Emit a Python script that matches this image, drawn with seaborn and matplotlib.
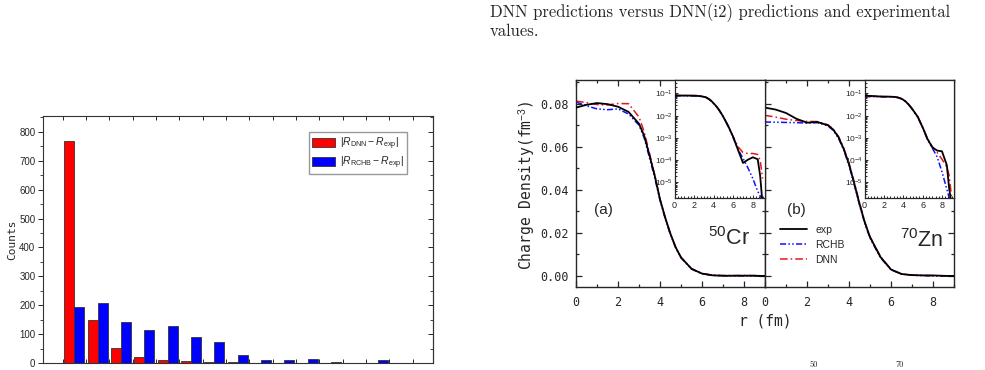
import numpy as np
import pandas as pd
import seaborn as sns
import matplotlib
matplotlib.use("Agg")
import matplotlib.pyplot as plt
from matplotlib.ticker import MultipleLocator, AutoMinorLocator, LogLocator, FormatStrFormatter, NullFormatter

# ---- histogram data (counts per bin) ----
bins = list(range(16))
dnn_counts = [768, 149, 53, 21, 9, 6, 3, 3, 1, 0, 0, 0, 0, 0, 1, 0]
rchb_counts = [194, 209, 141, 113, 127, 91, 71, 27, 12, 9, 14, 5, 0, 9, 1, 1]
hist_labels = [r"$|R_{\rm DNN}-R_{\rm exp}|$", r"$|R_{\rm RCHB}-R_{\rm exp}|$"]

# ---- charge density data (fm^-3) ----
r_fm = [0, 0.5, 1, 1.5, 2, 2.5, 3, 3.25, 3.5, 3.75, 4, 4.25, 4.5, 4.75, 5, 5.5, 6, 6.5, 7, 7.5, 8, 8.5, 8.75, 9]
cr_exp = [0.0782, 0.0795, 0.0803, 0.0798, 0.0786, 0.0762, 0.0707, 0.0650, 0.0560, 0.0465, 0.0355, 0.0270,
          0.0195, 0.0132, 0.0086, 0.0033, 1.1e-3, 2.8e-4, 7.5e-5, 1.05e-4, 1.35e-4, 1.1e-4, 2e-5, 1e-6]
cr_rchb = [0.0808, 0.0790, 0.0776, 0.0772, 0.0776, 0.0752, 0.0700, 0.0640, 0.0548, 0.0455, 0.0350, 0.0265,
           0.0190, 0.0130, 0.0084, 0.0032, 1.0e-3, 3.0e-4, 1.2e-4, 4.5e-5, 1.5e-5, 4e-6, 2.5e-6, 1.5e-6]
cr_dnn = [0.0812, 0.0805, 0.0796, 0.0794, 0.0801, 0.0800, 0.0738, 0.0668, 0.0568, 0.0467, 0.0358, 0.0268,
          0.0192, 0.0130, 0.0086, 0.0034, 1.1e-3, 4.0e-4, 2.2e-4, 2.0e-4, 2.0e-4, 1.8e-4, 1.0e-4, 1.5e-5]
zn_exp = [0.0782, 0.0773, 0.0757, 0.0730, 0.0712, 0.0715, 0.0700, 0.0680, 0.0645, 0.0590, 0.0520, 0.0430,
          0.0336, 0.0250, 0.0181, 0.0088, 0.0030, 9.0e-4, 3.8e-4, 2.7e-4, 2.5e-4, 6e-5, 5e-6, 1e-6]
zn_rchb = [0.0715, 0.0714, 0.0713, 0.0712, 0.0710, 0.0712, 0.0697, 0.0676, 0.0640, 0.0585, 0.0515, 0.0425,
           0.0330, 0.0245, 0.0176, 0.0085, 0.0029, 8.5e-4, 3.5e-4, 1.4e-4, 3e-5, 5e-6, 2e-6, 1e-6]
zn_dnn = [0.0746, 0.0738, 0.0728, 0.0722, 0.0718, 0.0717, 0.0702, 0.0682, 0.0648, 0.0594, 0.0525, 0.0436,
          0.0340, 0.0252, 0.0182, 0.0090, 0.0031, 9.5e-4, 4.0e-4, 2.2e-4, 1.1e-4, 5e-5, 2e-5, 2e-6]

sns.set_style("ticks")
plt.rcParams["font.family"] = ["Liberation Sans", "DejaVu Sans"]
plt.rcParams["mathtext.fontset"] = "custom"
plt.rcParams["mathtext.rm"] = "Liberation Sans"
plt.rcParams["mathtext.it"] = "Liberation Sans:italic"
plt.rcParams["mathtext.bf"] = "Liberation Sans:bold"
plt.rcParams["axes.unicode_minus"] = False

fig = plt.figure(figsize=(9.85, 3.7), dpi=100)

# ---------------- left: histogram ----------------
ax_h = fig.add_axes([0.04365, 0.0189, 0.3959, 0.6676])
df = pd.DataFrame({
    "bin": bins * 2,
    "count": dnn_counts + rchb_counts,
    "model": [hist_labels[0]] * len(bins) + [hist_labels[1]] * len(bins),
})
sns.barplot(data=df, x="bin", y="count", hue="model", palette=["#ff0000", "#0000ff"],
            saturation=1, width=0.86, edgecolor="#333333", linewidth=0.6, ax=ax_h)
ax_h.set_xlim(-1.34, 15.37)
ax_h.set_ylim(0, 855)
ax_h.set_xticks(np.arange(-0.5, 15, 1))
ax_h.set_xticklabels([])
ax_h.set_xlabel("")
ax_h.set_ylabel("")
ax_h.yaxis.set_major_locator(MultipleLocator(100))
ax_h.yaxis.set_minor_locator(MultipleLocator(50))
ax_h.tick_params(axis="y", which="major", direction="out", length=3.5, width=0.7, labelsize=7, pad=2)
ax_h.tick_params(axis="y", which="minor", direction="out", length=2, width=0.6)
ax_h.tick_params(axis="x", direction="in", length=3, width=0.7, top=True)
sec = ax_h.secondary_yaxis("right")
sec.yaxis.set_major_locator(MultipleLocator(100))
sec.yaxis.set_minor_locator(MultipleLocator(50))
sec.tick_params(which="major", direction="in", length=3.5, width=0.7, labelright=False)
sec.tick_params(which="minor", direction="in", length=2, width=0.6)
sec.spines["right"].set_color("#333333")
for s in ax_h.spines.values():
    s.set_color("#333333")
    s.set_linewidth(0.8)
ax_h.legend(loc="upper right", bbox_to_anchor=(0.933, 0.935), borderaxespad=0, fontsize=7.5,
            frameon=True, fancybox=False, edgecolor="#999999", framealpha=1,
            handlelength=2.2, handleheight=1.0, borderpad=0.3, labelspacing=0.3, handletextpad=0.5)
fig.text(12 / 985, 1 - 240 / 370, "Counts", rotation=90, ha="center", va="center",
         fontsize=8, family="DejaVu Sans Mono")

# ---------------- right: charge densities ----------------
ax_a = fig.add_axes([0.5848, 0.2251, 0.1919, 0.5586])
ax_b = fig.add_axes([0.7766, 0.2251, 0.1919, 0.5586], sharey=ax_a)

styles = {
    "exp": dict(color="black", linewidth=1.3, linestyle="-"),
    "RCHB": dict(color="#1010ff", linewidth=1.1, linestyle=(0, (4, 1.5, 1, 1.5, 1, 1.5))),
    "DNN": dict(color="#e8141e", linewidth=1.1, linestyle=(0, (5, 2, 1, 2))),
}
panels = [
    (ax_a, {"exp": cr_exp, "RCHB": cr_rchb, "DNN": cr_dnn}),
    (ax_b, {"exp": zn_exp, "RCHB": zn_rchb, "DNN": zn_dnn}),
]
for ax, series in panels:
    for name in ["exp", "RCHB", "DNN"]:
        sns.lineplot(x=r_fm, y=series[name], estimator=None, ax=ax,
                     label=name if ax is ax_b else None,
                     zorder=3 if name == "exp" else 2, **styles[name])
    ax.set_xlim(0, 9)
    ax.set_ylim(-0.005, 0.091)
    ax.xaxis.set_major_locator(MultipleLocator(2))
    ax.xaxis.set_minor_locator(MultipleLocator(1))
    ax.yaxis.set_major_locator(MultipleLocator(0.02))
    ax.yaxis.set_minor_locator(MultipleLocator(0.01))
    ax.yaxis.set_major_formatter(FormatStrFormatter("%.2f"))
    ax.tick_params(which="both", direction="in", top=True, right=True, width=0.9,
                   labelsize=8.5, labelfontfamily="DejaVu Sans Mono")
    ax.tick_params(which="major", length=4.5)
    ax.tick_params(which="minor", length=2.5)
    ax.tick_params(axis="x", pad=7)
    ax.tick_params(axis="y", pad=5)
    for s in ax.spines.values():
        s.set_linewidth(1.0)
    ax.set_xlabel("")
    ax.set_ylabel("")
ax_b.tick_params(axis="y", labelleft=False)

ax_b.legend(loc="upper left", bbox_to_anchor=(0.079, 0.30), frameon=False, fontsize=7.5, borderpad=0,
            borderaxespad=0, handlelength=2.6, handletextpad=0.8, labelspacing=0.5)

ax_a.text(0.143, 0.371, "(a)", transform=ax_a.transAxes, ha="center", va="center", fontsize=11)
ax_b.text(0.164, 0.371, "(b)", transform=ax_b.transAxes, ha="center", va="center", fontsize=11)
ax_a.text(0.921, 0.20, r"$^{50}$Cr", transform=ax_a.transAxes, ha="right", va="baseline", fontsize=15.5)
ax_b.text(0.942, 0.19, r"$^{70}$Zn", transform=ax_b.transAxes, ha="right", va="baseline", fontsize=15.5)

fig.text(527 / 985, 1 - 185 / 370, r"Charge Density(fm$^{-3}$)", rotation=90, ha="center", va="center",
         fontsize=10.5, family="DejaVu Sans Mono")
fig.text(765 / 985, 1 - 321 / 370, "r (fm)", ha="center", va="center", fontsize=10.5,
         family="DejaVu Sans Mono")

# ---------------- insets (log scale) ----------------
ins_a = fig.add_axes([0.6848, 0.4649, 0.0919, 0.3189])
ins_b = fig.add_axes([0.8777, 0.4649, 0.0909, 0.3189])
for ins, series in [(ins_a, panels[0][1]), (ins_b, panels[1][1])]:
    for name in ["exp", "RCHB", "DNN"]:
        sns.lineplot(x=r_fm, y=series[name], estimator=None, ax=ins,
                     zorder=3 if name == "exp" else 2, **styles[name])
    ins.set_yscale("log")
    ins.set_xlim(0, 9.25)
    ins.set_ylim(2e-6, 0.4)
    ins.xaxis.set_major_locator(MultipleLocator(2))
    ins.xaxis.set_minor_locator(AutoMinorLocator(6))
    ins.yaxis.set_major_locator(LogLocator(base=10, numticks=10))
    ins.yaxis.set_minor_locator(LogLocator(base=10, subs=np.arange(2, 10), numticks=10))
    ins.yaxis.set_minor_formatter(NullFormatter())
    ins.tick_params(which="both", direction="in", width=0.7)
    ins.tick_params(which="major", length=2.5)
    ins.tick_params(which="minor", length=1.5)
    ins.tick_params(axis="x", pad=2.5, labelsize=6.5)
    ins.tick_params(axis="y", pad=1.5, labelsize=6)
    for s in ins.spines.values():
        s.set_linewidth(0.9)
    ins.set_xlabel("")
    ins.set_ylabel("")

# ---------------- page text around the figures ----------------
fig.text(490 / 985, 1 - 12.5 / 370, "DNN predictions versus DNN(i2) predictions and experimental",
         family="cmr10", fontsize=12, va="center", ha="left")
fig.text(490 / 985, 1 - 31 / 370, "values.", family="cmr10", fontsize=12, va="center", ha="left")
fig.text(810 / 985, 1 / 370, "50", family="cmr10", fontsize=6, va="bottom", ha="left")
fig.text(895 / 985, 1 / 370, "70", family="cmr10", fontsize=6, va="bottom", ha="left")

fig.savefig("out.png", dpi=100)
